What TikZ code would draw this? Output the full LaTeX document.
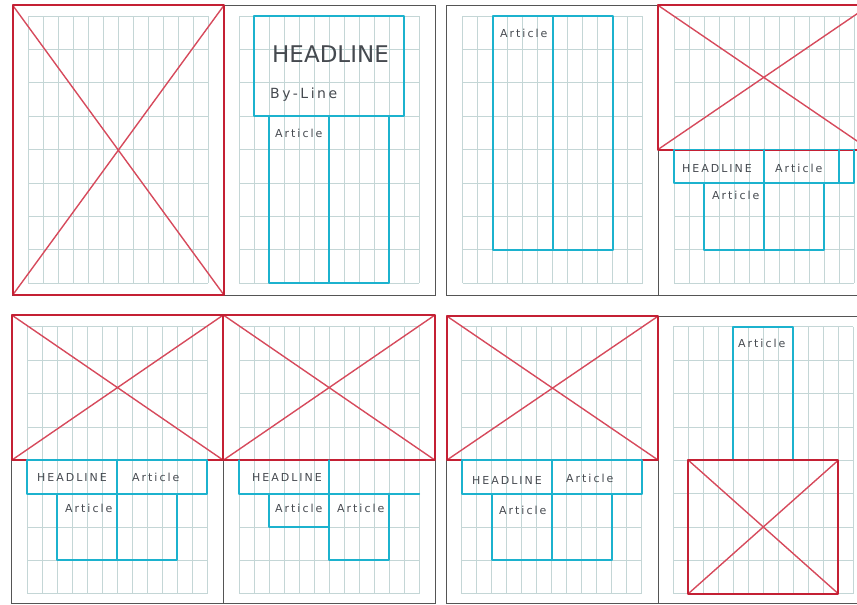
\documentclass[tikz,border=0pt]{standalone}
\usepackage{fontspec}
\newfontfamily\hand[LetterSpace=18]{DejaVu Sans}
\newfontfamily\handbig{DejaVu Sans}
\definecolor{gridc}{RGB}{196,214,214}
\definecolor{framec}{RGB}{85,85,85}
\definecolor{redc}{RGB}{196,32,52}
\definecolor{redx}{RGB}{214,74,92}
\definecolor{bluec}{RGB}{28,178,206}
\definecolor{inkc}{RGB}{70,74,80}
\tikzset{
  gridline/.style={draw=gridc,line width=0.6pt},
  framebox/.style={draw=framec,line width=1pt},
  redbox/.style={draw=redc,line width=2pt,line join=round},
  redcross/.style={draw=redx,line width=1.4pt},
  bluebox/.style={draw=bluec,line width=1.8pt,line join=round,line cap=round},
  lbl/.style={inner sep=0pt,anchor=west,text=inkc,font=\hand\fontsize{11}{13}\selectfont},
}
\newcommand\pagegrid[2]{%
  \foreach \i in {0,...,12} \draw[gridline] ({#1+15*\i},#2) -- ++(0,267);
  \foreach \j in {0,...,8} \draw[gridline] (#1,{#2+33.375*\j}) -- ++(180,0);
}
\newcommand\photo[4]{%
  \draw[redcross] (#1,#2) -- (#3,#4) (#1,#4) -- (#3,#2);
  \draw[redbox] (#1,#2) rectangle (#3,#4);
}
\begin{document}
\begin{tikzpicture}[x=1pt,y=-1pt]
\useasboundingbox (0,0) rectangle (857,605);
\clip (0,0) rectangle (857,605);
% ---------- grids ----------
\pagegrid{28}{16}
\pagegrid{239}{16}
\pagegrid{462.7}{16}
\pagegrid{674}{16}
\pagegrid{27.3}{326.7}
\pagegrid{239.3}{326.7}
\pagegrid{461.7}{326.7}
\pagegrid{673.3}{326.7}
% ---------- frames ----------
\draw[framebox] (12.7,5.3) rectangle (435,295) (224,5.3) -- (224,295);
\draw[framebox] (446.7,5.3) rectangle (869.5,295) (658,5.3) -- (658,295);
\draw[framebox] (11.7,315) rectangle (435,603.5) (223.3,315) -- (223.3,603.5);
\draw[framebox] (446.7,316) rectangle (869.5,603.5) (658.3,316) -- (658.3,603.5);
% ---------- spread A ----------
\photo{12.7}{5.3}{224}{295}
\draw[bluebox] (254,16) rectangle (404,116.1);
\draw[bluebox] (269,116.1) rectangle (389,283) (329,116.1) -- (329,283);
\node[lbl,font=\handbig\fontsize{23}{26}\selectfont] (hlA) at (272,54) {HEADLINE};
\node[lbl,font=\hand\fontsize{14}{16}\selectfont] (byA) at (270,95) {By-Line};
\node[lbl] (arA) at (275,133) {Article};
% ---------- spread B ----------
\draw[bluebox] (492.7,16) rectangle (612.7,249.6) (552.7,16) -- (552.7,249.6);
\node[lbl] (arB1) at (500,33) {Article};
\photo{658}{5.3}{869.5}{149.5}
\draw[bluebox] (674,149.5) rectangle (854,182.9) (764,149.5) -- (764,182.9);
\draw[bluebox] (839,149.5) -- (839,182.9);
\draw[bluebox] (704,182.9) rectangle (824,249.6) (764,182.9) -- (764,249.6);
\node[lbl] (hlB) at (682,168) {HEADLINE};
\node[lbl] (arB2) at (775,168) {Article};
\node[lbl] (arB3) at (712,195) {Article};
% ---------- spread C ----------
\photo{11.7}{315}{223.3}{460.2}
\photo{223.3}{315}{435}{460.2}
\draw[bluebox] (27.3,460.2) rectangle (207.3,493.6) (117.3,460.2) -- (117.3,493.6);
\draw[bluebox] (57.3,493.6) rectangle (177.3,560.3) (117.3,493.6) -- (117.3,560.3);
\node[lbl] (hlC1) at (37,477) {HEADLINE};
\node[lbl] (arC1) at (132,477) {Article};
\node[lbl] (arC2) at (65,508) {Article};
\draw[bluebox] (239.3,460.2) -- (239.3,493.6) -- (419.3,493.6);
\draw[bluebox] (329.3,460.2) -- (329.3,560.3) -- (389.3,560.3) -- (389.3,493.6);
\draw[bluebox] (269.3,493.6) rectangle (329.3,526.9);
\node[lbl] (hlC2) at (252,477) {HEADLINE};
\node[lbl] (arC3) at (275,508) {Article};
\node[lbl] (arC4) at (337,508) {Article};
% ---------- spread D ----------
\photo{446.7}{316}{658.3}{460.2}
\draw[bluebox] (461.7,460.2) rectangle (641.7,493.6) (551.7,460.2) -- (551.7,493.6);
\draw[bluebox] (491.7,493.6) rectangle (611.7,560.3) (551.7,493.6) -- (551.7,560.3);
\node[lbl] (hlD) at (472,480) {HEADLINE};
\node[lbl] (arD1) at (566,478) {Article};
\node[lbl] (arD2) at (499,510) {Article};
\draw[bluebox] (733.3,460.2) -- (733.3,326.7) -- (793.3,326.7) -- (793.3,460.2);
\photo{688.3}{460.2}{838.3}{593.7}
\node[lbl] (arD3) at (738,343) {Article};
\end{tikzpicture}
\end{document}
